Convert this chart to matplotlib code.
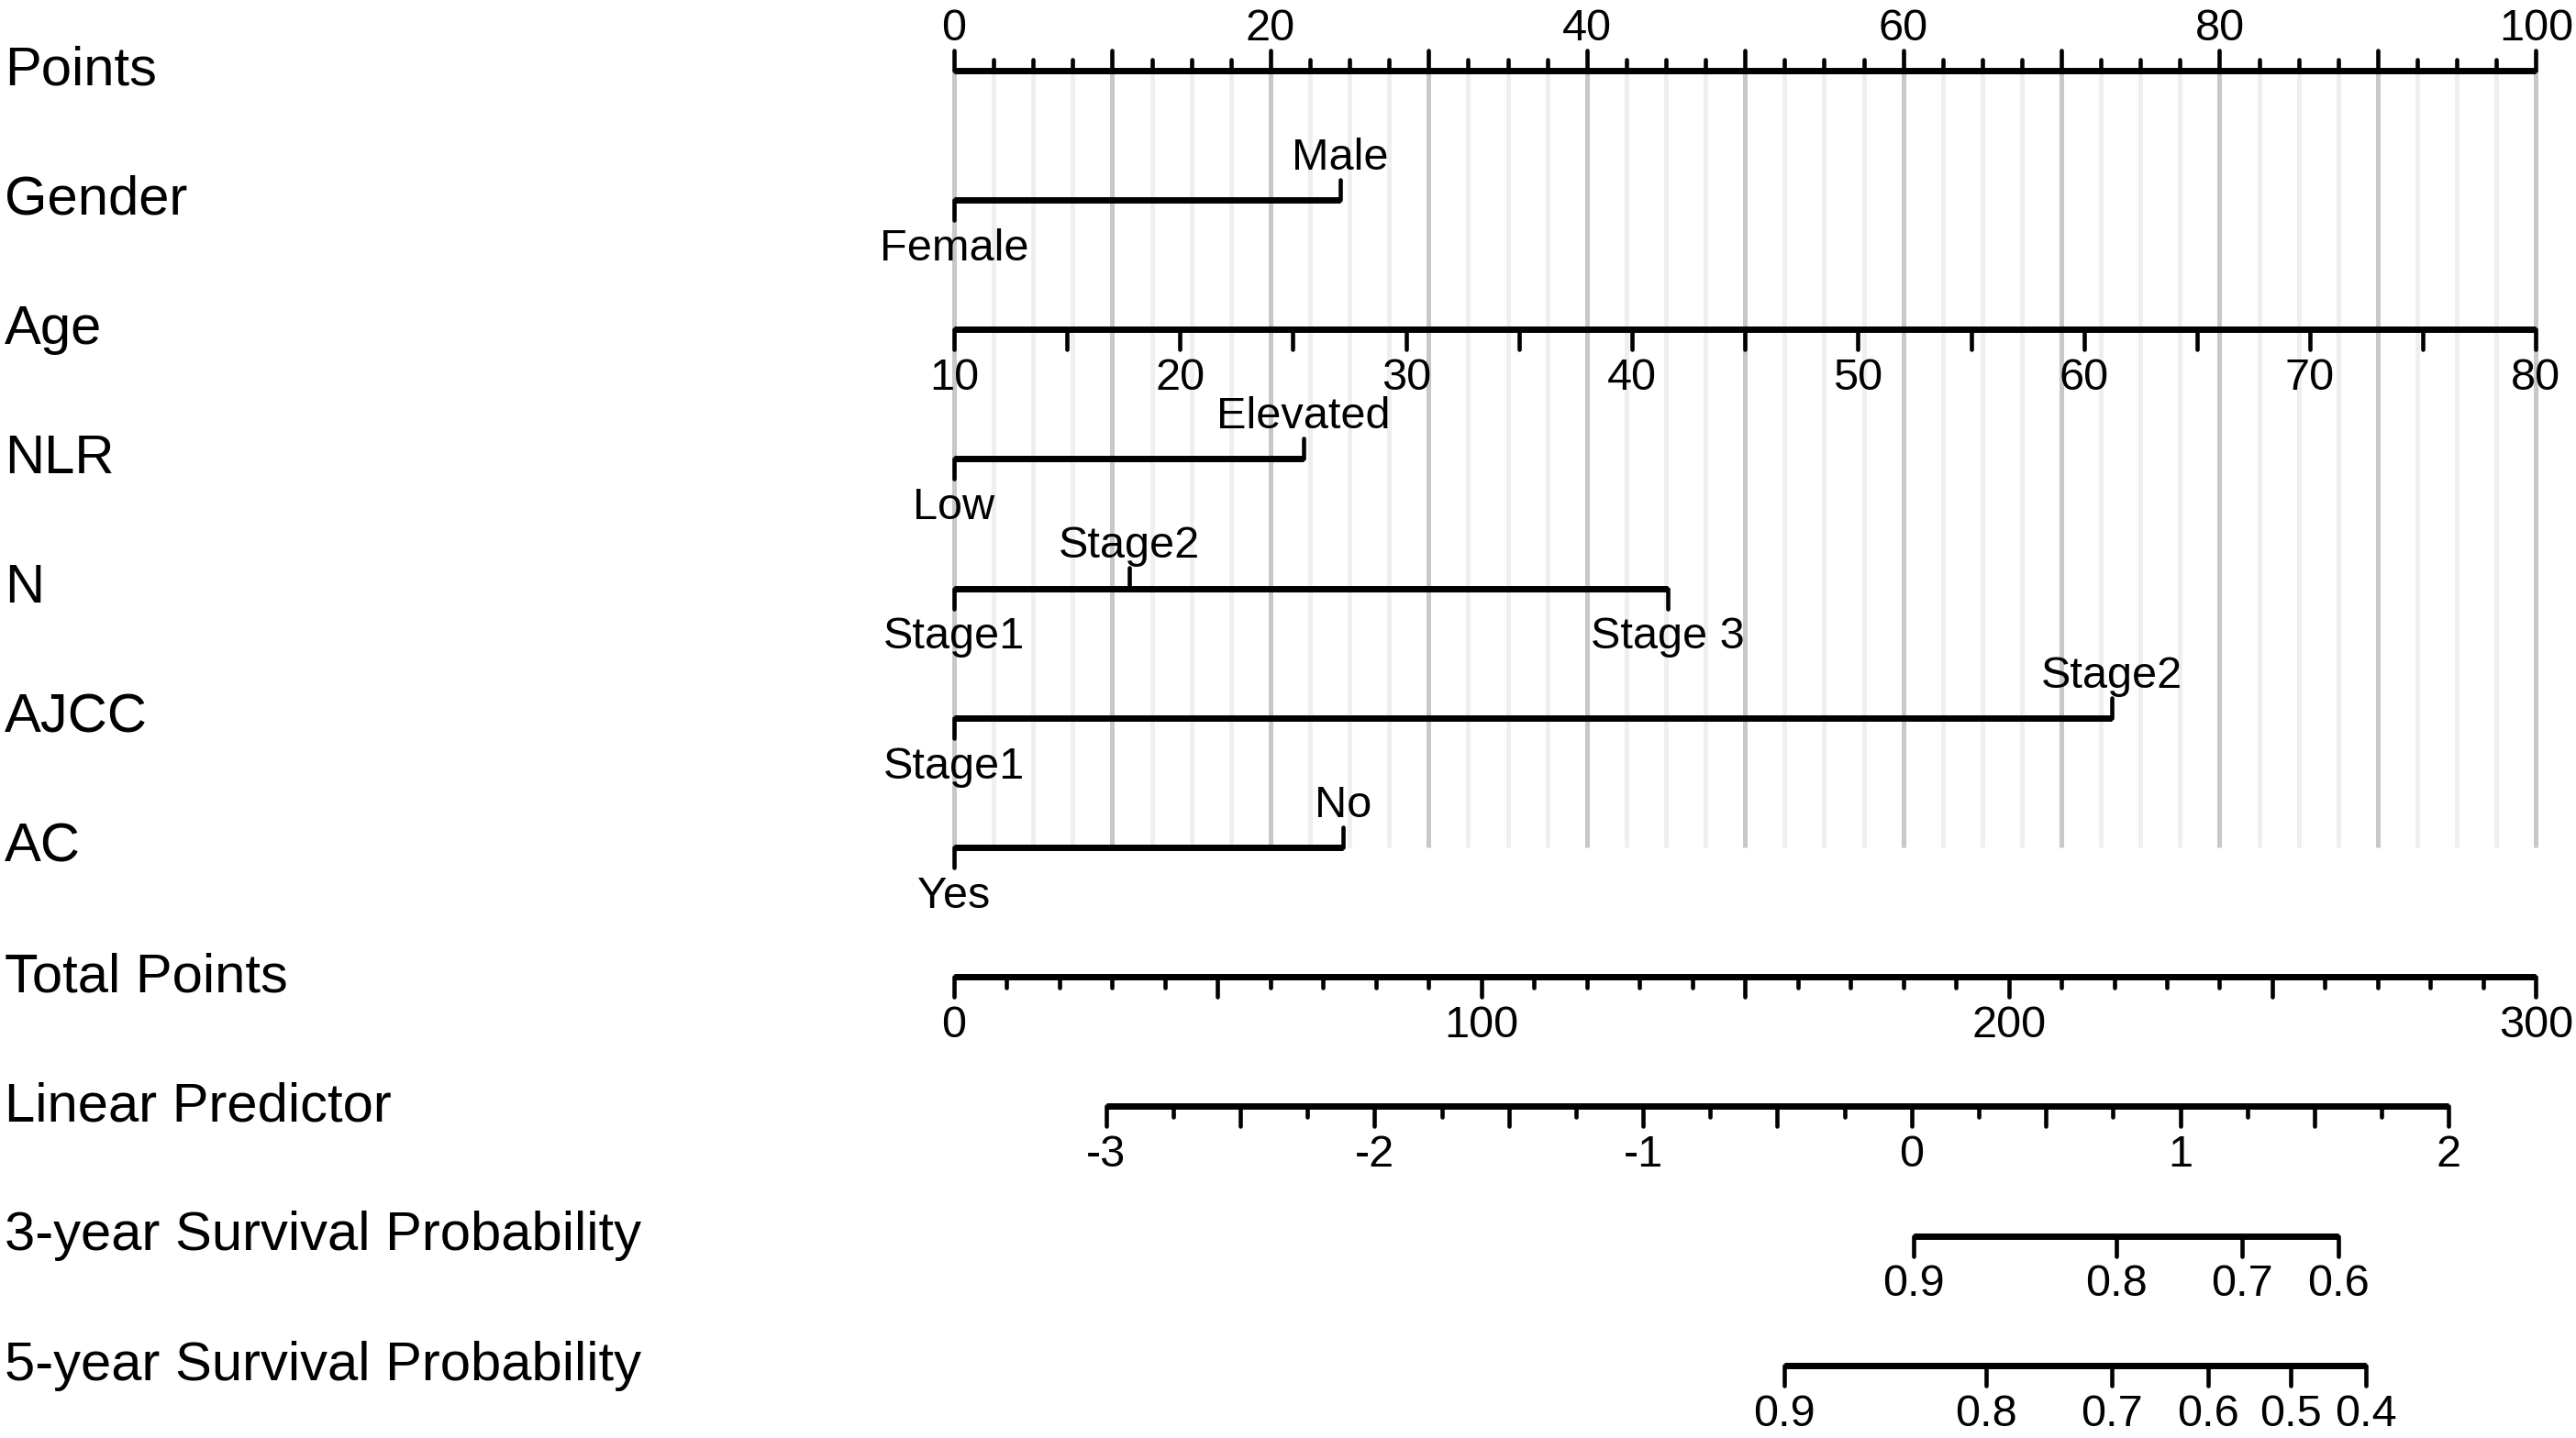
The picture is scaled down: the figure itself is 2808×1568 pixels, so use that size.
import numpy as np
import matplotlib.pyplot as plt

# ---------------------------------------------------------------
# Nomogram data
# ---------------------------------------------------------------

row_labels = ["Points", "Gender", "Age", "NLR", "N", "AJCC", "AC",
              "Total Points", "Linear Predictor",
              "3-year Survival Probability", "5-year Survival Probability"]

# Points scale (0 - 100)
points_labels = ["0", "20", "40", "60", "80", "100"]

# categorical predictors: level names, points, label side
gender_levels = ["Female", "Male"]
gender_points = [0.0, 24.4]
gender_side   = ["below", "above"]

nlr_levels = ["Low", "Elevated"]
nlr_points = [0.0, 22.1]
nlr_side   = ["below", "above"]

n_levels = ["Stage1", "Stage2", "Stage 3"]
n_points = [0.0, 11.1, 45.1]
n_side   = ["below", "above", "below"]

ajcc_levels = ["Stage1", "Stage2"]
ajcc_points = [0.0, 73.2]
ajcc_side   = ["below", "above"]

ac_levels = ["Yes", "No"]
ac_points = [0.0, 24.6]
ac_side   = ["below", "above"]

# Age (continuous): 10 -> 0 points, 80 -> 100 points
age_min, age_max = 10, 80
age_labels = [10, 20, 30, 40, 50, 60, 70, 80]

# Total points and linear predictor
total_max = 300
total_labels = [0, 100, 200, 300]
lp_labels = [-3, -2, -1, 0, 1, 2]
lp_intercept = 181.6     # total points at LP = 0
lp_slope = 50.93         # total points per LP unit

# survival probabilities -> total points
surv3_labels = ["0.9", "0.8", "0.7", "0.6"]
surv3_total  = [181.9, 220.4, 244.3, 262.5]
surv5_labels = ["0.9", "0.8", "0.7", "0.6", "0.5", "0.4"]
surv5_total  = [157.5, 195.7, 219.5, 237.8, 253.4, 267.7]

# ---------------------------------------------------------------
# Style
# ---------------------------------------------------------------

plt.rcParams['font.family'] = ['Liberation Sans', 'DejaVu Sans']

LINE_W  = 5.0
TICK_W  = 3.3
MAJOR   = 0.156     # tick length in row units
MINOR   = 0.085
ABOVE   = 0.234     # baseline offset of labels above an axis
BELOW   = 0.467     # baseline offset of labels below an axis
ROW_OFF = 0.113
LAB_FS  = 43
TXT_FS  = 35

fig = plt.figure(figsize=(28.08, 15.68), dpi=100)
ax = fig.add_axes([0, 0, 1, 1])
ax.set_xlim(-60.31, 102.53)
ax.set_ylim(10.5616, -0.5432)
ax.axis('off')


def draw_scale(row, x0, x1, ticks, lens, labx, labs, sides):
    ax.plot([x0, x1], [row, row], color='black', lw=LINE_W,
            solid_capstyle='butt', zorder=3)
    for x, L in zip(ticks, lens):
        ax.plot([x, x], [row, row + L], color='black', lw=TICK_W,
                solid_capstyle='round', zorder=3)
    for x, t, s in zip(labx, labs, sides):
        y = row - ABOVE if s == "above" else row + BELOW
        ax.text(x, y, t, fontsize=TXT_FS, ha='center', va='baseline')


# row labels
for i, lab in enumerate(row_labels):
    ax.text(0.0018, i + ROW_OFF, lab, fontsize=LAB_FS, ha='left',
            va='baseline', transform=ax.get_yaxis_transform())

# background grid lines
grid = np.arange(0, 100.01, 2.5)
for v in grid:
    col = '#c8c8c8' if v % 10 == 0 else '#efefef'
    ax.plot([v, v], [0, 6], color=col, lw=3.6, solid_capstyle='butt', zorder=0)

# Points
pts_ticks = np.arange(0, 100.01, 2.5)
pts_lens = [-MAJOR if t % 10 == 0 else -MINOR for t in pts_ticks]
pts_pos = [float(s) for s in points_labels]
draw_scale(0, 0, 100, pts_ticks, pts_lens, pts_pos, points_labels,
           ["above"] * len(points_labels))


def draw_factor(row, levels, pts, sides):
    lens = [-MAJOR if s == "above" else MAJOR for s in sides]
    draw_scale(row, min(pts), max(pts), pts, lens, pts, levels, sides)


draw_factor(1, gender_levels, gender_points, gender_side)

# Age
age_ticks = np.arange(age_min, age_max + 0.1, 5)
age_x = (age_ticks - age_min) / (age_max - age_min) * 100
age_lab_x = [(a - age_min) / (age_max - age_min) * 100 for a in age_labels]
draw_scale(2, 0, 100, age_x, [MAJOR] * len(age_x), age_lab_x,
           [str(a) for a in age_labels], ["below"] * len(age_labels))

draw_factor(3, nlr_levels, nlr_points, nlr_side)
draw_factor(4, n_levels, n_points, n_side)
draw_factor(5, ajcc_levels, ajcc_points, ajcc_side)
draw_factor(6, ac_levels, ac_points, ac_side)

# Total points (x in points units = total / 3)
k = 100.0 / total_max
tot_ticks = np.arange(0, total_max + 0.1, 10)
tot_lens = [MAJOR if t % 50 == 0 else MINOR for t in tot_ticks]
draw_scale(7, 0, 100, tot_ticks * k, tot_lens,
           [t * k for t in total_labels], [str(t) for t in total_labels],
           ["below"] * len(total_labels))

# Linear predictor
lp_ticks = np.arange(lp_labels[0], lp_labels[-1] + 0.01, 0.25)
lp_x = (lp_intercept + lp_slope * lp_ticks) * k
lp_lens = [MAJOR if (t * 2) % 1 == 0 else MINOR for t in lp_ticks]
lp_lab_x = [(lp_intercept + lp_slope * v) * k for v in lp_labels]
draw_scale(8, lp_x[0], lp_x[-1], lp_x, lp_lens, lp_lab_x,
           [str(v) for v in lp_labels], ["below"] * len(lp_labels))

# survival probabilities
s3x = [t * k for t in surv3_total]
draw_scale(9, min(s3x), max(s3x), s3x, [MAJOR] * len(s3x), s3x,
           surv3_labels, ["below"] * len(s3x))
s5x = [t * k for t in surv5_total]
draw_scale(10, min(s5x), max(s5x), s5x, [MAJOR] * len(s5x), s5x,
           surv5_labels, ["below"] * len(s5x))

fig.savefig("out.png", dpi=100, facecolor='white')
